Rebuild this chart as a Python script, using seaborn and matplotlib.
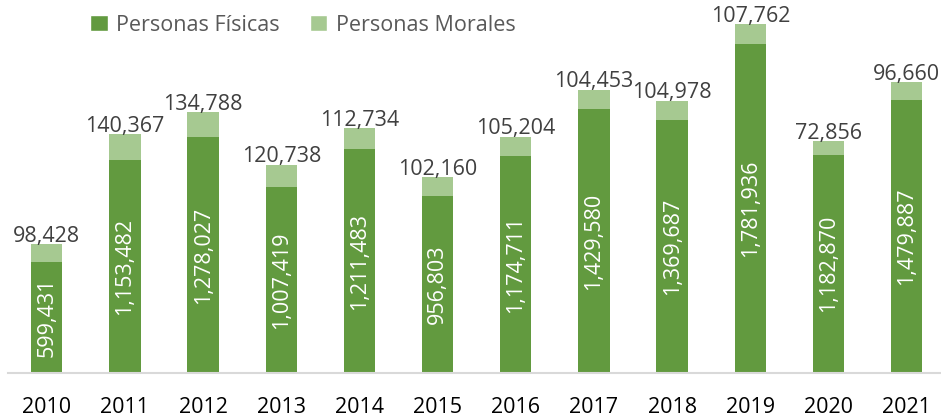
"""Personas Físicas / Personas Morales stacked bar chart."""
import matplotlib
matplotlib.use("Agg")
import matplotlib.pyplot as plt
from matplotlib.patches import Patch
import pandas as pd
import seaborn as sns

years = ["2010", "2011", "2012", "2013", "2014", "2015",
         "2016", "2017", "2018", "2019", "2020", "2021"]
fisicas = [599431, 1153482, 1278027, 1007419, 1211483, 956803,
           1174711, 1429580, 1369687, 1781936, 1182870, 1479887]
morales = [98428, 140367, 134788, 120738, 112734, 102160,
           105204, 104453, 104978, 107762, 72856, 96660]

DARK = "#629A3F"
LIGHT = "#A6C991"

df = pd.DataFrame({"year": years, "fisicas": fisicas, "morales": morales})
df["total"] = df["fisicas"] + df["morales"]

sns.set_style("white")
plt.rcParams["font.family"] = ["Open Sans", "DejaVu Sans"]

fig = plt.figure(figsize=(9.41, 4.18), dpi=100)
ax = fig.add_axes([0.0082, 0.1077, 0.9968, 0.8837])

sns.barplot(data=df, x="year", y="total", color=LIGHT, width=0.4,
            saturation=1, linewidth=0, ax=ax)
sns.barplot(data=df, x="year", y="fisicas", color=DARK, width=0.4,
            saturation=1, linewidth=0, ax=ax)

# totals container -> morales label above, fisicas container -> inside
ax.bar_label(ax.containers[0], labels=[f"{v:,}" for v in df["morales"]],
             padding=-2, fontsize=15.5, color="#404040")
ax.bar_label(ax.containers[1], labels=[f"{v:,}" for v in df["fisicas"]],
             label_type="center", rotation=90, fontsize=15.5, color="white")

ax.set_ylim(0, 2000000)
ax.set_xlim(-0.5, 11.5)
ax.set_xlabel("")
ax.set_ylabel("")
ax.set_yticks([])
ax.tick_params(axis="x", length=0, pad=17, labelsize=15.5, labelcolor="black")
for side in ["top", "left", "right"]:
    ax.spines[side].set_visible(False)
ax.spines["bottom"].set_color("#D9D9D9")
ax.spines["bottom"].set_linewidth(1.5)

handles = [Patch(facecolor=DARK, label="Personas Físicas"),
           Patch(facecolor=LIGHT, label="Personas Morales")]
fig.legend(handles=handles, loc="center", bbox_to_anchor=(0.322, 0.94),
           ncol=2, frameon=False, fontsize=15.5, labelcolor="#595959",
           handlelength=0.8, handleheight=0.8, handletextpad=0.4,
           columnspacing=1.4)

fig.savefig("out.png", dpi=100)
plt.close(fig)
